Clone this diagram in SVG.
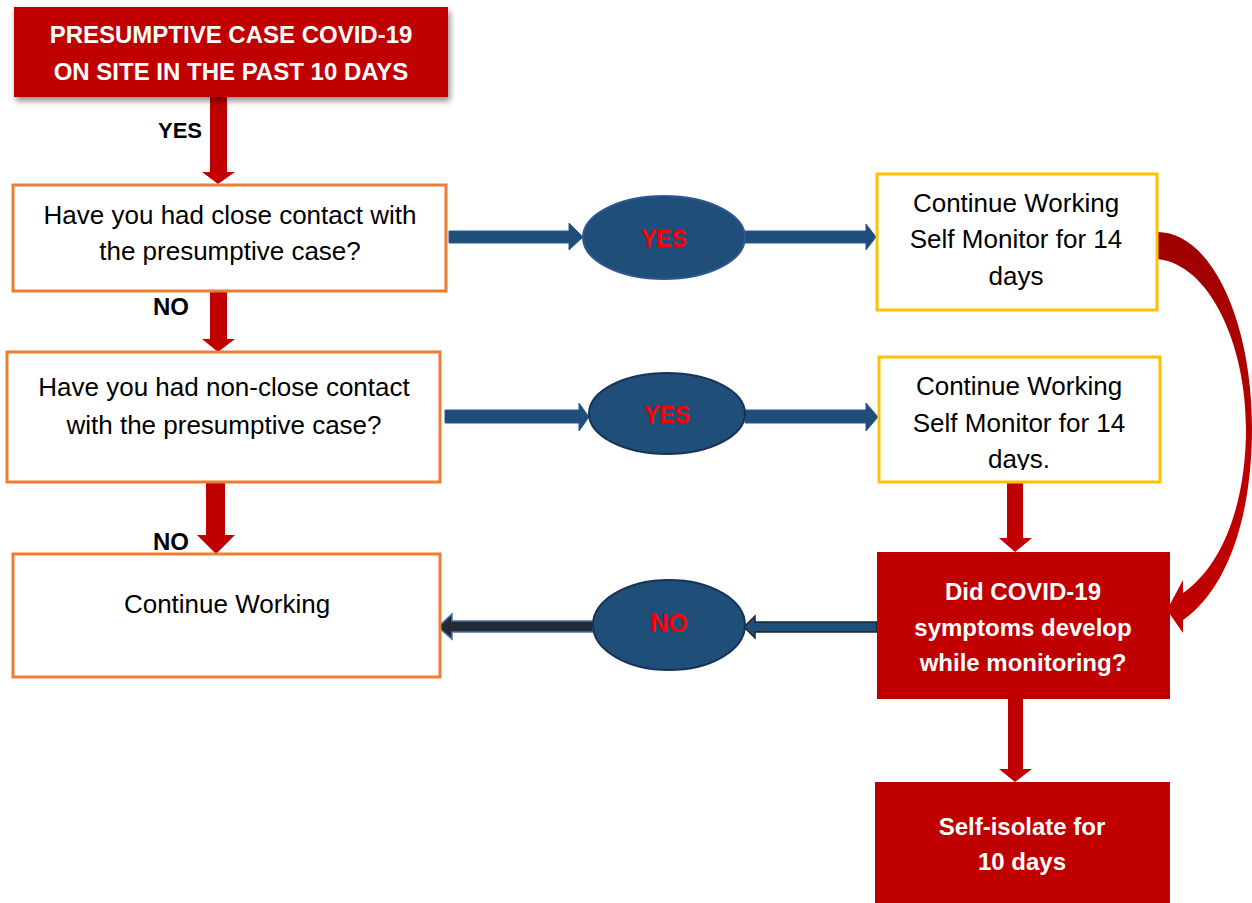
<svg xmlns="http://www.w3.org/2000/svg" width="1252" height="903" viewBox="0 0 1252 903">
  <defs>
    <style>
      .txt { font-family: "Liberation Sans", Arial, sans-serif; font-size: 26px; fill: #000; text-anchor: middle; }
      .wb { font-family: "Liberation Sans", Arial, sans-serif; font-weight: bold; font-size: 24px; fill: #fff; text-anchor: middle; }
      .lbl { font-family: "Liberation Sans", Arial, sans-serif; font-weight: bold; font-size: 22px; fill: #000; text-anchor: middle; }
      .oval { font-family: "Liberation Sans", Arial, sans-serif; font-weight: bold; font-size: 23px; fill: #FF0000; text-anchor: middle; }
      .obox { fill: #fff; stroke: #ED7D31; stroke-width: 3; }
      .ybox { fill: #fff; stroke: #FFC000; stroke-width: 3; }
      .rbox { fill: #C00000; }
      .ell { fill: #1F4E79; stroke: #2F5597; stroke-width: 2; }
      .ell2 { fill: #1F4E79; stroke: #17325A; stroke-width: 2; }
      .red { fill: #C00000; }
      .blue { fill: #1F4E79; stroke: #2F5597; stroke-width: 1; }
    </style>
    <filter id="sh" x="-10%" y="-10%" width="130%" height="140%">
      <feDropShadow dx="2" dy="4" stdDeviation="3" flood-color="#000" flood-opacity="0.45"/>
    </filter>
    <linearGradient id="cg" x1="0" y1="232" x2="0" y2="633" gradientUnits="userSpaceOnUse">
      <stop offset="0" stop-color="#9E0000"/>
      <stop offset="0.35" stop-color="#B00000"/>
      <stop offset="0.6" stop-color="#C00000"/>
      <stop offset="1" stop-color="#C00000"/>
    </linearGradient>
    <clipPath id="clipDays">
      <rect x="878" y="356" width="282" height="114"/>
    </clipPath>
  </defs>

  <g id="connectors">
    <polygon class="red" points="210,97 227,97 227,172 235,172 218,184 202,172 210,172"/>
    <polygon class="red" points="210,292 227,292 227,339 235,339 218,352 202,339 210,339"/>
    <polygon class="red" points="206,483 225,483 225,535 235,535 216,554 197,535 206,535"/>
    <polygon class="red" points="1007,482 1023,482 1023,538 1032,538 1015,552 999,538 1007,538"/>
    <polygon class="red" points="1008,699 1023,699 1023,769 1032,769 1015,782 999,769 1008,769"/>
    <path fill="url(#cg)" d="M1157,232 C1212,232 1252,322 1252,428 C1252,520 1226,590 1183,620 L1183,633 L1167,610 L1183,580 L1183,593 C1222,566 1246,505 1246,428 C1246,345 1210,264 1157,259 Z"/>
    <polygon class="blue" points="449,231 569,231 569,223 583,237 569,250 569,243 449,243"/>
    <polygon class="blue" points="745,231 866,231 866,224 876,237 866,250 866,243 745,243"/>
    <polygon class="blue" points="445,410 579,410 579,403 589,417 579,431 579,423 445,423"/>
    <polygon class="blue" points="745,410 866,410 866,403 878,417 866,431 866,423 745,423"/>
    <polygon fill="#1F4E79" stroke="#1B2333" stroke-width="1.5" points="877,622 755,622 755,616 744,627 755,638 755,632 877,632"/>
    <polygon fill="#222A35" stroke="#4A76A8" stroke-width="1.5" points="593,621 452,621 452,614 438,627 452,639 452,632 593,632"/>
  </g>

  <g id="start">
    <rect class="rbox" x="14" y="7" width="434" height="90" filter="url(#sh)"/>
    <text class="wb" x="231" y="43">PRESUMPTIVE CASE COVID-19</text>
    <text class="wb" x="231" y="80">ON SITE IN THE PAST 10 DAYS</text>
  </g>
  <text class="lbl" x="180" y="138">YES</text>
  <text class="lbl" x="171" y="315" style="font-size:24px">NO</text>
  <text class="lbl" x="171" y="550" style="font-size:24px">NO</text>

  <g id="q1">
    <rect class="obox" x="13" y="185" width="433" height="106"/>
    <text class="txt" x="230" y="224">Have you had close contact with</text>
    <text class="txt" x="230" y="260">the presumptive case?</text>
  </g>

  <g id="q2">
    <rect class="obox" x="7" y="352" width="433" height="130"/>
    <text class="txt" x="224" y="396">Have you had non-close contact</text>
    <text class="txt" x="224" y="434">with the presumptive case?</text>
  </g>

  <g id="continue">
    <rect class="obox" x="13" y="554" width="427" height="123"/>
    <text class="txt" x="227" y="613">Continue Working</text>
  </g>

  <g id="yes1">
    <ellipse class="ell" cx="664" cy="237.5" rx="81" ry="41.5"/>
    <text class="oval" x="664" y="247">YES</text>
  </g>
  <g id="yes2">
    <ellipse class="ell2" cx="667" cy="413.5" rx="78" ry="40.5"/>
    <text class="oval" x="667" y="423">YES</text>
  </g>
  <g id="no1">
    <ellipse class="ell2" cx="669" cy="625" rx="76" ry="45"/>
    <text class="oval" x="669" y="632" style="font-size:25px">NO</text>
  </g>

  <g id="monitor1">
    <rect class="ybox" x="877" y="174" width="280" height="136"/>
    <text class="txt" x="1016" y="212">Continue Working</text>
    <text class="txt" x="1016" y="248">Self Monitor for 14</text>
    <text class="txt" x="1016" y="285">days</text>
  </g>

  <g id="monitor2">
    <rect class="ybox" x="879" y="357" width="281" height="125"/>
    <text class="txt" x="1019" y="395">Continue Working</text>
    <text class="txt" x="1019" y="432">Self Monitor for 14</text>
    <text class="txt" x="1019" y="468" clip-path="url(#clipDays)">days.</text>
  </g>

  <g id="symptoms">
    <rect class="rbox" x="877" y="552" width="293" height="147"/>
    <text class="wb" x="1023" y="600">Did COVID-19</text>
    <text class="wb" x="1023" y="636">symptoms develop</text>
    <text class="wb" x="1023" y="671">while monitoring?</text>
  </g>

  <g id="isolate">
    <rect class="rbox" x="875" y="782" width="295" height="121"/>
    <text class="wb" x="1022" y="835">Self-isolate for</text>
    <text class="wb" x="1022" y="870">10 days</text>
  </g>
</svg>
